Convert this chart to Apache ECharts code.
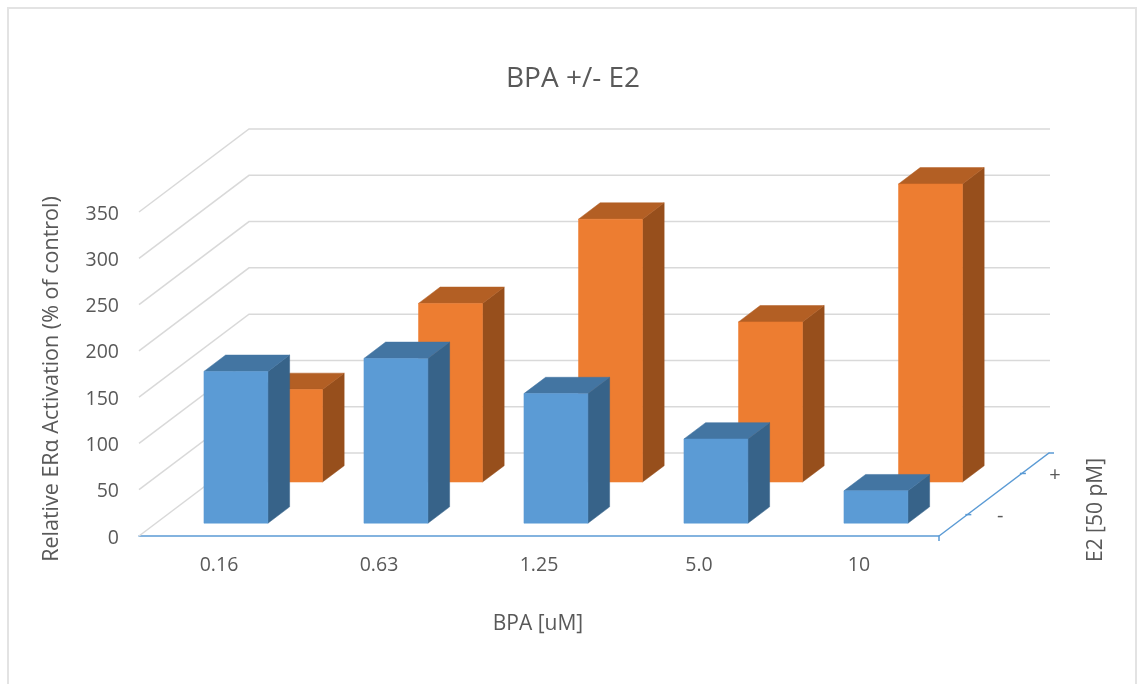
<!DOCTYPE html>
<html>
<head>
<meta charset="utf-8">
<style>html,body{margin:0;padding:0;background:#fff}#chart{width:1138px;height:684px}</style>
<script src="https://cdn.jsdelivr.net/npm/echarts@6/dist/echarts.min.js"></script>
</head>
<body>
<div id="chart"></div>
<script>
// Estrogen receptor activation by BPA dose, with and without E2
const doses = ['0.16', '0.63', '1.25', '5.0', '10'];
const withoutE2 = [164, 178, 140, 91, 35];
const withE2 = [100, 193, 284, 173, 322];
const valueTicks = [0, 50, 100, 150, 200, 250, 300, 350];
const e2Levels = ['-', '+'];

// Oblique projection used for the depth axis
const DEPTH_X = 110, DEPTH_Y = -83;
const ROW_FRONT = [0.154, 0.65];    // front face of each row, as a share of the depth
const ROW_DEPTH = 0.197;            // bar depth, as a share of the depth
const BAR_SHARE = 0.4;              // bar width, as a share of a category band
const FONT = '"Open Sans", sans-serif';
const TEXT = '#595959', WALL = '#d9d9d9', AXIS = '#5b9bd5';

const shift = (p, d) => [p[0] + DEPTH_X * d, p[1] + DEPTH_Y * d];
const poly = (points, fill) => ({
  type: 'polygon', shape: { points }, style: { fill, stroke: fill, lineWidth: 0.5 }
});

function barRenderer(row, front, top, side) {
  return function (params, api) {
    const i = api.value(0), v = api.value(1);
    const halfW = api.size([1, 0])[0] * BAR_SHARE / 2;
    const base = api.coord([i, 0]), head = api.coord([i, v]);
    const f = ROW_FRONT[row], b = f + ROW_DEPTH;
    const fl = shift([base[0] - halfW, base[1]], f), fr = shift([base[0] + halfW, base[1]], f);
    const tl = shift([head[0] - halfW, head[1]], f), tr = shift([head[0] + halfW, head[1]], f);
    const br = shift([base[0] + halfW, base[1]], b);
    const ttl = shift([head[0] - halfW, head[1]], b), ttr = shift([head[0] + halfW, head[1]], b);
    return {
      type: 'group',
      children: [
        poly([tr, ttr, br, fr], side),
        poly([tl, ttl, ttr, tr], top),
        poly([fl, tl, tr, fr], front)
      ]
    };
  };
}

function wallRenderer(params, api) {
  const sys = params.coordSys;
  const y = api.coord([0, api.value(1)])[1];
  const start = [sys.x, y];
  const corner = shift(start, 1);
  return {
    type: 'polyline',
    shape: { points: [start, corner, [sys.x + sys.width + DEPTH_X + 1, corner[1]]] },
    style: { fill: 'none', stroke: WALL, lineWidth: 1.5 }
  };
}

function depthAxisRenderer(params, api) {
  const sys = params.coordSys;
  const origin = [sys.x + sys.width, sys.y + sys.height];
  const children = [];
  if (params.dataIndex === 0) {
    const end = shift(origin, 1);
    children.push({
      type: 'polyline',
      shape: { points: [[origin[0], origin[1] + 5], origin, end, [end[0] + 5, end[1]]] },
      style: { fill: 'none', stroke: AXIS, lineWidth: 1.5 }
    });
  }
  const tick = shift(origin, ROW_FRONT[api.value(0)] + ROW_DEPTH / 2 + 0.005);
  children.push({
    type: 'line',
    shape: { x1: tick[0] - 2, y1: tick[1], x2: tick[0] + 4, y2: tick[1] },
    style: { stroke: AXIS, lineWidth: 1.5 }
  });
  children.push({
    type: 'text',
    style: {
      x: tick[0] + 33, y: tick[1] + 2, text: e2Levels[api.value(0)],
      font: '20px ' + FONT, fill: TEXT, align: 'center', verticalAlign: 'middle'
    }
  });
  return { type: 'group', children };
}

const chart = echarts.init(document.getElementById('chart'), null, { renderer: 'canvas' });
chart.setOption({
  animation: false,
  backgroundColor: '#ffffff',
  title: {
    text: 'BPA +/- E2', left: 568, top: 60, textAlign: 'center',
    textStyle: { fontFamily: FONT, fontSize: 28, fontWeight: 'normal', color: TEXT }
  },
  grid: { left: 139, top: 212, width: 800, height: 324 },
  xAxis: {
    type: 'category', data: doses,
    name: 'BPA [uM]', nameLocation: 'middle', nameGap: 78,
    nameTextStyle: { fontFamily: FONT, fontSize: 21, color: TEXT, padding: [0, 2, 0, 0] },
    axisLine: { lineStyle: { color: AXIS, width: 1.5 } },
    axisTick: { alignWithLabel: true, length: 5, lineStyle: { color: AXIS, width: 1.5 } },
    axisLabel: { margin: 19, fontFamily: FONT, fontSize: 19.5, color: TEXT }
  },
  yAxis: {
    type: 'value', min: 0, max: 350, interval: 50,
    name: 'Relative ERα Activation (% of control)', nameLocation: 'middle', nameRotate: 90, nameGap: 76,
    nameTextStyle: { fontFamily: FONT, fontSize: 21.5, color: TEXT, padding: [0, 10, 0, 0] },
    axisLine: { show: false }, axisTick: { show: false }, splitLine: { show: false },
    axisLabel: { margin: 20, fontFamily: FONT, fontSize: 19.5, color: TEXT, verticalAlign: 'top', lineHeight: 4 }
  },
  graphic: [
    {
      type: 'polyline', silent: true,
      shape: { points: [[8, 684], [8, 8], [1136, 8], [1136, 684]] },
      style: { fill: 'none', stroke: '#e3e3e3', lineWidth: 2 }
    },
    {
      type: 'text', x: 1096, y: 510, rotation: Math.PI / 2, silent: true,
      style: { text: 'E2 [50 pM]', font: '21px ' + FONT, fill: TEXT, align: 'center', verticalAlign: 'middle' }
    }
  ],
  series: [
    { type: 'custom', name: 'Walls', silent: true, renderItem: wallRenderer,
      encode: { x: 0, y: 1 }, data: valueTicks.map(v => [0, v]) },
    { type: 'custom', name: 'Depth axis', silent: true, renderItem: depthAxisRenderer,
      encode: { x: 0 }, data: e2Levels.map((_, i) => [i]) },
    { type: 'custom', name: 'With E2', renderItem: barRenderer(1, '#ed7d31', '#b35f24', '#974f1c'),
      encode: { x: 0, y: 1 }, data: withE2.map((v, i) => [i, v]) },
    { type: 'custom', name: 'Without E2', renderItem: barRenderer(0, '#5b9bd5', '#4375a2', '#376389'),
      encode: { x: 0, y: 1 }, data: withoutE2.map((v, i) => [i, v]) }
  ]
});
</script>
</body>
</html>
